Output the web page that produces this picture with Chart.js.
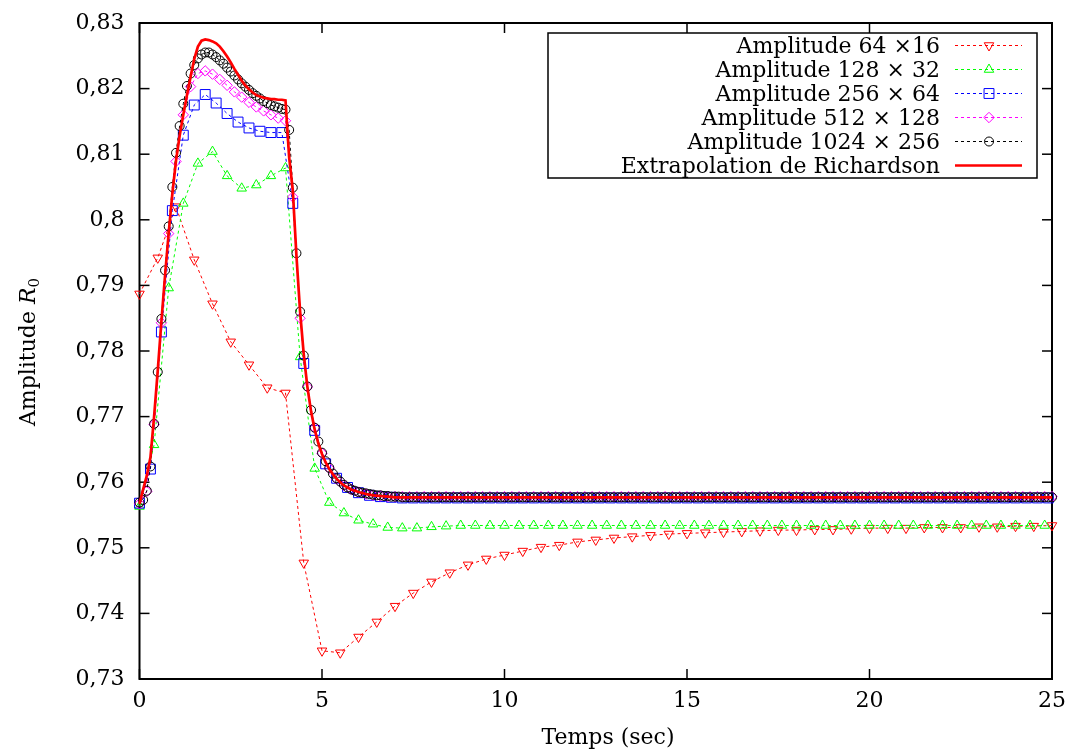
<!DOCTYPE html>
<html>
<head>
<meta charset="utf-8">
<title>Amplitude R0</title>
<script src="https://cdn.jsdelivr.net/npm/chart.js@4.4.0/dist/chart.umd.min.js"></script>
<style>
  html, body { margin: 0; padding: 0; background: #fff; }
  #wrap { width: 1070px; height: 753px; }
</style>
</head>
<body>
<div id="wrap"><canvas id="chart" width="1070" height="753"></canvas></div>
<script>
// Amplitude R0 vs time, five grid resolutions + Richardson extrapolation

const FONT = '"DejaVu Serif", serif';

const seriesLabels = [
    'Amplitude 64 \u00d716',
    'Amplitude 128 \u00d7 32',
    'Amplitude 256 \u00d7 64',
    'Amplitude 512 \u00d7 128',
    'Amplitude 1024 \u00d7 256',
    'Extrapolation de Richardson'
];

const xTicks = [0, 5, 10, 15, 20, 25];
const yTicks = [0.73, 0.74, 0.75, 0.76, 0.77, 0.78, 0.79, 0.80, 0.81, 0.82, 0.83];

// sampling step (sec) of each grid's output
const step64 = 0.5;
const step128 = 0.4;
const step256 = 0.3;
const step512 = 0.2;
const step1024 = 0.1;

// 64 x 16, t = 0 .. 25
const amp64 = [
    0.7887, 0.7942, 0.8020, 0.7939, 0.7872, 0.7814, 0.7779, 0.7744, 0.7736, 0.7477,
    0.7343, 0.7340, 0.7364, 0.7387, 0.7411, 0.7431, 0.7448, 0.7462, 0.7474, 0.7483,
    0.7489, 0.7495, 0.7501, 0.7504, 0.7509, 0.7512, 0.7515, 0.7517, 0.7519, 0.7521,
    0.7522, 0.7523, 0.7524, 0.7525, 0.7526, 0.7527, 0.7527, 0.7528, 0.7528, 0.7529,
    0.7530, 0.7530, 0.7530, 0.7531, 0.7531, 0.7531, 0.7532, 0.7532, 0.7533, 0.7533,
    0.7534
];

// 128 x 32, t = 0 .. 24.8
const amp128 = [
    0.7563, 0.7657, 0.7896, 0.8025, 0.8086, 0.8104, 0.8067, 0.8048, 0.8053, 0.8067,
    0.8079, 0.7791, 0.7621, 0.7569, 0.7553, 0.7542, 0.7536, 0.7531, 0.7530, 0.7530,
    0.7532, 0.7533, 0.7534, 0.7534, 0.7534, 0.7534, 0.7534, 0.7534, 0.7534, 0.7534,
    0.7534, 0.7534, 0.7534, 0.7534, 0.7534, 0.7534, 0.7534, 0.7534, 0.7534, 0.7534,
    0.7534, 0.7534, 0.7534, 0.7534, 0.7534, 0.7534, 0.7534, 0.7534, 0.7534, 0.7534,
    0.7534, 0.7534, 0.7534, 0.7534, 0.7534, 0.7534, 0.7534, 0.7534, 0.7534, 0.7534,
    0.7534, 0.7534, 0.7534
];

// 256 x 64, t = 0 .. 24.9
const amp256 = [
    0.7568, 0.7620, 0.7829, 0.8014, 0.8129, 0.8175, 0.8191, 0.8178, 0.8162, 0.8149,
    0.8140, 0.8135, 0.8133, 0.8133, 0.8025, 0.7781, 0.7679, 0.7628, 0.7606, 0.7592,
    0.7584, 0.7580, 0.7578, 0.7577, 0.7576, 0.7576, 0.7576, 0.7576, 0.7576, 0.7576,
    0.7576, 0.7576, 0.7576, 0.7576, 0.7576, 0.7576, 0.7576, 0.7576, 0.7576, 0.7576,
    0.7576, 0.7576, 0.7576, 0.7576, 0.7576, 0.7576, 0.7576, 0.7576, 0.7576, 0.7576,
    0.7576, 0.7576, 0.7576, 0.7576, 0.7576, 0.7576, 0.7576, 0.7576, 0.7576, 0.7576,
    0.7576, 0.7576, 0.7576, 0.7576, 0.7576, 0.7576, 0.7576, 0.7576, 0.7576, 0.7576,
    0.7576, 0.7576, 0.7576, 0.7576, 0.7576, 0.7576, 0.7576, 0.7576, 0.7576, 0.7576,
    0.7576, 0.7576, 0.7576, 0.7576
];

// 512 x 128, t = 0 .. 25
const amp512 = [
    0.7567, 0.7586, 0.7688, 0.7843, 0.7979, 0.8089, 0.8160, 0.8203, 0.8223, 0.8227,
    0.8222, 0.8214, 0.8205, 0.8195, 0.8187, 0.8179, 0.8172, 0.8166, 0.8160, 0.8155,
    0.8151, 0.8035, 0.7850, 0.7745, 0.7683, 0.7644, 0.7621, 0.7605, 0.7595, 0.7589,
    0.7585, 0.7582, 0.7580, 0.7579, 0.7578, 0.7578, 0.7578, 0.7578, 0.7578, 0.7578,
    0.7578, 0.7578, 0.7578, 0.7578, 0.7578, 0.7578, 0.7578, 0.7578, 0.7578, 0.7578,
    0.7578, 0.7578, 0.7578, 0.7578, 0.7578, 0.7578, 0.7578, 0.7578, 0.7578, 0.7578,
    0.7578, 0.7578, 0.7578, 0.7578, 0.7578, 0.7578, 0.7578, 0.7578, 0.7578, 0.7578,
    0.7578, 0.7578, 0.7578, 0.7578, 0.7578, 0.7578, 0.7578, 0.7578, 0.7578, 0.7578,
    0.7578, 0.7578, 0.7578, 0.7578, 0.7578, 0.7578, 0.7578, 0.7578, 0.7578, 0.7578,
    0.7578, 0.7578, 0.7578, 0.7578, 0.7578, 0.7578, 0.7578, 0.7578, 0.7578, 0.7578,
    0.7578, 0.7578, 0.7578, 0.7578, 0.7578, 0.7578, 0.7578, 0.7578, 0.7578, 0.7578,
    0.7578, 0.7578, 0.7578, 0.7578, 0.7578, 0.7578, 0.7578, 0.7578, 0.7578, 0.7578,
    0.7578, 0.7578, 0.7578, 0.7578, 0.7578, 0.7578
];

// 1024 x 256, t = 0 .. 25
const amp1024 = [
    0.7569, 0.7573, 0.7587, 0.7624, 0.7689, 0.7768, 0.7849, 0.7923, 0.7990, 0.8050,
    0.8102, 0.8143, 0.8177, 0.8204, 0.8223, 0.8236, 0.8246, 0.8252, 0.8255, 0.8255,
    0.8252, 0.8248, 0.8243, 0.8238, 0.8232, 0.8226, 0.8220, 0.8214, 0.8208, 0.8203,
    0.8198, 0.8193, 0.8189, 0.8185, 0.8181, 0.8178, 0.8175, 0.8173, 0.8171, 0.8169,
    0.8168, 0.8137, 0.8049, 0.7949, 0.7860, 0.7793, 0.7746, 0.7710, 0.7683, 0.7662,
    0.7645, 0.7632, 0.7622, 0.7613, 0.7606, 0.7601, 0.7596, 0.7592, 0.7589, 0.7587,
    0.7585, 0.7584, 0.7583, 0.7582, 0.7581, 0.7580, 0.7580, 0.7579, 0.7579, 0.7578,
    0.7578, 0.7578, 0.7577, 0.7577, 0.7577, 0.7577, 0.7577, 0.7577, 0.7577, 0.7577,
    0.7577, 0.7577, 0.7577, 0.7577, 0.7577, 0.7577, 0.7577, 0.7577, 0.7577, 0.7577,
    0.7577, 0.7577, 0.7577, 0.7577, 0.7577, 0.7577, 0.7577, 0.7577, 0.7577, 0.7577,
    0.7577, 0.7577, 0.7577, 0.7577, 0.7577, 0.7577, 0.7577, 0.7577, 0.7577, 0.7577,
    0.7577, 0.7577, 0.7577, 0.7577, 0.7577, 0.7577, 0.7577, 0.7577, 0.7577, 0.7577,
    0.7577, 0.7577, 0.7577, 0.7577, 0.7577, 0.7577, 0.7577, 0.7577, 0.7577, 0.7577,
    0.7577, 0.7577, 0.7577, 0.7577, 0.7577, 0.7577, 0.7577, 0.7577, 0.7577, 0.7577,
    0.7577, 0.7577, 0.7577, 0.7577, 0.7577, 0.7577, 0.7577, 0.7577, 0.7577, 0.7577,
    0.7577, 0.7577, 0.7577, 0.7577, 0.7577, 0.7577, 0.7577, 0.7577, 0.7577, 0.7577,
    0.7577, 0.7577, 0.7577, 0.7577, 0.7577, 0.7577, 0.7577, 0.7577, 0.7577, 0.7577,
    0.7577, 0.7577, 0.7577, 0.7577, 0.7577, 0.7577, 0.7577, 0.7577, 0.7577, 0.7577,
    0.7577, 0.7577, 0.7577, 0.7577, 0.7577, 0.7577, 0.7577, 0.7577, 0.7577, 0.7577,
    0.7577, 0.7577, 0.7577, 0.7577, 0.7577, 0.7577, 0.7577, 0.7577, 0.7577, 0.7577,
    0.7577, 0.7577, 0.7577, 0.7577, 0.7577, 0.7577, 0.7577, 0.7577, 0.7577, 0.7577,
    0.7577, 0.7577, 0.7577, 0.7577, 0.7577, 0.7577, 0.7577, 0.7577, 0.7577, 0.7577,
    0.7577, 0.7577, 0.7577, 0.7577, 0.7577, 0.7577, 0.7577, 0.7577, 0.7577, 0.7577,
    0.7577, 0.7577, 0.7577, 0.7577, 0.7577, 0.7577, 0.7577, 0.7577, 0.7577, 0.7577,
    0.7577, 0.7577, 0.7577, 0.7577, 0.7577, 0.7577, 0.7577, 0.7577, 0.7577, 0.7577,
    0.7577
];

// Richardson extrapolation (plain line)
const richTimes = [
    0.0, 0.1, 0.2, 0.3, 0.4, 0.5, 0.6, 0.7, 0.8, 0.9,
    1.0, 1.1, 1.2, 1.3, 1.4, 1.5, 1.6, 1.7, 1.8, 1.9,
    2.0, 2.1, 2.2, 2.3, 2.4, 2.5, 2.6, 2.7, 2.8, 2.9,
    3.0, 3.1, 3.2, 3.3, 3.4, 3.5, 3.6, 3.7, 3.8, 3.9,
    4.0, 4.1, 4.2, 4.3, 4.4, 4.5, 4.6, 4.7, 4.8, 4.9,
    5.0, 5.1, 5.2, 5.3, 5.4, 5.5, 5.6, 5.7, 5.8, 5.9,
    6.0, 6.2, 6.4, 6.6, 6.8, 7.0, 25.0
];
const richValues = [
    0.7567, 0.7589, 0.7610, 0.7638, 0.7700, 0.7770, 0.7845, 0.7915, 0.7980, 0.8040,
    0.8090, 0.8128, 0.8160, 0.8190, 0.8218, 0.8245, 0.8264, 0.8273, 0.8275, 0.8274,
    0.8272, 0.8269, 0.8264, 0.8257, 0.8249, 0.8240, 0.8230, 0.8221, 0.8212, 0.8205,
    0.8199, 0.8194, 0.8190, 0.8188, 0.8186, 0.8185, 0.8184, 0.8184, 0.8183, 0.8183,
    0.8182, 0.8095, 0.8045, 0.7945, 0.7860, 0.7795, 0.7745, 0.7708, 0.7680, 0.7659,
    0.7643, 0.7630, 0.7620, 0.7612, 0.7605, 0.7600, 0.7595, 0.7592, 0.7589, 0.7587,
    0.7585, 0.7582, 0.7580, 0.7579, 0.7578, 0.7577, 0.7577
];

function sampled(values, step) {
    return values.map((v, i) => ({ x: i * step, y: v }));
}

function gridSeries(label, values, step, color, style, radius, rotation, order) {
    return {
        label: label,
        data: sampled(values, step),
        borderColor: color,
        borderWidth: 1,
        borderDash: [3, 3],
        pointStyle: style,
        pointRadius: radius,
        pointRotation: rotation,
        pointBorderColor: color,
        pointBackgroundColor: 'rgba(0,0,0,0)',
        pointBorderWidth: 1,
        fill: false,
        clip: false,
        order: order
    };
}

const datasets = [
    gridSeries(seriesLabels[0], amp64, step64, '#ff0000', 'triangle', 5.5, 180, 5),
    gridSeries(seriesLabels[1], amp128, step128, '#00ff00', 'triangle', 5.5, 0, 4),
    gridSeries(seriesLabels[2], amp256, step256, '#0000ff', 'rect', 7, 0, 3),
    gridSeries(seriesLabels[3], amp512, step512, '#ff00ff', 'rectRot', 5.2, 0, 2),
    gridSeries(seriesLabels[4], amp1024, step1024, '#000000', 'circle', 4.5, 0, 1),
    {
        label: seriesLabels[5],
        data: richTimes.map((t, i) => ({ x: t, y: richValues[i] })),
        borderColor: '#ff0000',
        borderWidth: 2.7,
        pointRadius: 0,
        fill: false,
        clip: false,
        order: 0
    }
];

// hollow marker shapes for the legend samples
function drawMarker(ctx, style, rotation, x, y, r) {
    ctx.beginPath();
    if (style === 'triangle') {
        const s = rotation === 180 ? -1 : 1;
        const c = Math.cos(Math.PI / 6) * r;
        ctx.moveTo(x, y - s * r);
        ctx.lineTo(x + c, y + s * r / 2);
        ctx.lineTo(x - c, y + s * r / 2);
        ctx.closePath();
    } else if (style === 'rect') {
        const h = r * Math.SQRT1_2;
        ctx.rect(x - h, y - h, 2 * h, 2 * h);
    } else if (style === 'rectRot') {
        ctx.moveTo(x - r, y);
        ctx.lineTo(x, y - r);
        ctx.lineTo(x + r, y);
        ctx.lineTo(x, y + r);
        ctx.closePath();
    } else {
        ctx.arc(x, y, r, 0, Math.PI * 2);
    }
    ctx.stroke();
}

function segment(ctx, x1, y1, x2, y2) {
    ctx.beginPath();
    ctx.moveTo(x1, y1);
    ctx.lineTo(x2, y2);
    ctx.stroke();
}

// gnuplot-like frame with inward ticks on all four sides
const framePlugin = {
    id: 'frame',
    beforeDatasetsDraw(chart) {
        const ctx = chart.ctx;
        const a = chart.chartArea;
        const xs = chart.scales.x;
        const ys = chart.scales.y;
        ctx.save();
        ctx.strokeStyle = '#000';
        ctx.lineWidth = 1.5;
        xTicks.forEach(v => {
            const px = xs.getPixelForValue(v);
            segment(ctx, px, a.bottom, px, a.bottom - 10);
            segment(ctx, px, a.top, px, a.top + 10);
        });
        yTicks.forEach(v => {
            const py = ys.getPixelForValue(v);
            segment(ctx, a.left, py, a.left + 10, py);
            segment(ctx, a.right, py, a.right - 10, py);
        });
        ctx.lineWidth = 2;
        ctx.strokeRect(a.left, a.top, a.right - a.left, a.bottom - a.top);
        ctx.restore();
    },
    afterDraw(chart) {
        const ctx = chart.ctx;
        ctx.save();
        ctx.fillStyle = '#000';

        // x axis title
        ctx.font = '22px ' + FONT;
        ctx.textAlign = 'center';
        ctx.textBaseline = 'middle';
        ctx.fillText('Temps (sec)', 608, 738);

        // y axis title: Amplitude R_0, rotated
        ctx.save();
        ctx.translate(27, 352);
        ctx.rotate(-Math.PI / 2);
        ctx.textAlign = 'left';
        ctx.textBaseline = 'alphabetic';
        const partA = 'Amplitude ';
        ctx.font = '22px ' + FONT;
        const wA = ctx.measureText(partA).width;
        ctx.font = 'italic 22px ' + FONT;
        const wR = ctx.measureText('R').width;
        ctx.font = '15px ' + FONT;
        const w0 = ctx.measureText('0').width;
        let cx = -(wA + wR + w0) / 2;
        ctx.font = '22px ' + FONT;
        ctx.fillText(partA, cx, 8);
        cx += wA;
        ctx.font = 'italic 22px ' + FONT;
        ctx.fillText('R', cx, 8);
        cx += wR;
        ctx.font = '15px ' + FONT;
        ctx.fillText('0', cx, 12);
        ctx.restore();

        // legend box
        ctx.strokeStyle = '#000';
        ctx.lineWidth = 1.5;
        ctx.strokeRect(548, 33, 489, 145);
        ctx.font = '22px ' + FONT;
        ctx.textAlign = 'right';
        ctx.textBaseline = 'alphabetic';
        chart.data.datasets.forEach((ds, i) => {
            const rowY = 45.5 + i * 24;
            ctx.fillStyle = '#000';
            ctx.fillText(ds.label, 940, rowY + 7);
            ctx.strokeStyle = ds.borderColor;
            ctx.lineWidth = ds.borderWidth;
            ctx.setLineDash(ds.borderDash || []);
            segment(ctx, 955, rowY, 1022, rowY);
            ctx.setLineDash([]);
            if (ds.pointRadius > 0) {
                ctx.lineWidth = 1;
                drawMarker(ctx, ds.pointStyle, ds.pointRotation, 989, rowY, ds.pointRadius);
            }
        });
        ctx.restore();
    }
};

const ctx = document.getElementById('chart');
new Chart(ctx, {
    type: 'line',
    data: { datasets: datasets },
    options: {
        responsive: false,
        animation: false,
        devicePixelRatio: 1,
        layout: { padding: { top: 23, right: 18, left: 0, bottom: 0 } },
        elements: { line: { tension: 0 } },
        plugins: {
            legend: { display: false },
            tooltip: { enabled: false }
        },
        scales: {
            x: {
                type: 'linear',
                min: 0,
                max: 25,
                grid: { display: false, drawTicks: false },
                border: { display: false },
                afterBuildTicks: s => { s.ticks = xTicks.map(v => ({ value: v })); },
                ticks: {
                    color: '#000',
                    font: { family: FONT, size: 22 },
                    padding: 9,
                    maxRotation: 0
                },
                afterFit: s => {
                    s.height = 74;
                    s.paddingLeft = 0;
                    s.paddingRight = 0;
                }
            },
            y: {
                type: 'linear',
                min: 0.73,
                max: 0.83,
                grid: { display: false, drawTicks: false },
                border: { display: false },
                afterBuildTicks: s => { s.ticks = yTicks.map(v => ({ value: v })); },
                ticks: {
                    color: '#000',
                    font: { family: FONT, size: 22 },
                    padding: 15,
                    callback: v => String(+v.toFixed(2)).replace('.', ',')
                },
                afterFit: s => {
                    s.width = 139.5;
                    s.paddingTop = 0;
                    s.paddingBottom = 0;
                }
            }
        }
    },
    plugins: [framePlugin]
});
</script>
</body>
</html>
